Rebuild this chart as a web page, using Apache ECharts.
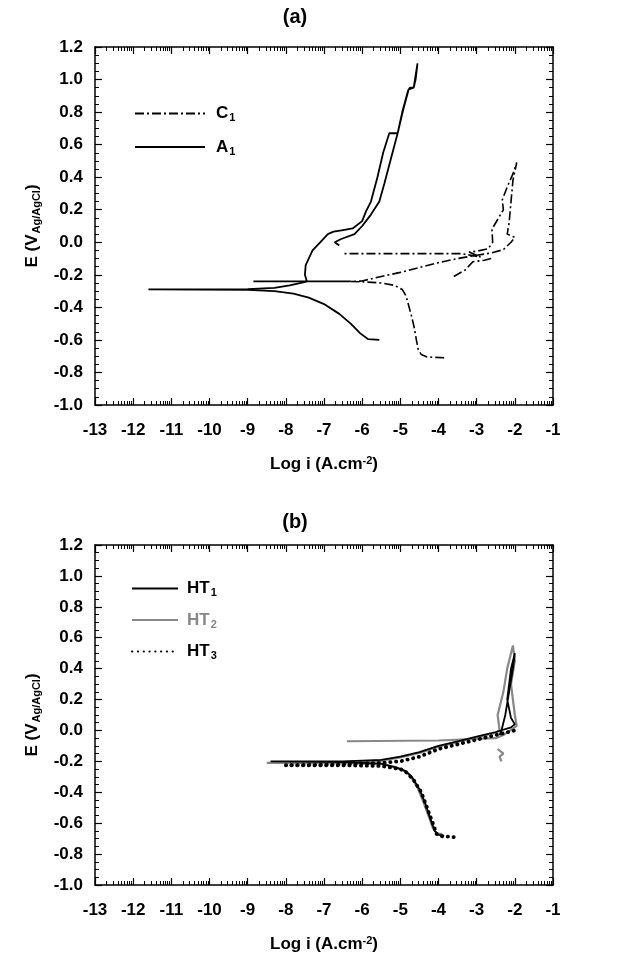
<!DOCTYPE html>
<html>
<head>
<meta charset="utf-8">
<script src="https://cdn.jsdelivr.net/npm/echarts@6/dist/echarts.min.js"></script>
<style>
  html, body { margin: 0; padding: 0; background: #fff; }
  #chart { width: 621px; height: 960px; }
</style>
</head>
<body>
<div id="chart"></div>
<script>
// axis ticks
const xTicks = [-13, -12, -11, -10, -9, -8, -7, -6, -5, -4, -3, -2, -1];
const yTicks = [-1.0, -0.8, -0.6, -0.4, -0.2, 0.0, 0.2, 0.4, 0.6, 0.8, 1.0, 1.2];

// panel (a) : [log i, E]
const c1Main = [
  [-3.85, -0.71], [-4.3, -0.705], [-4.45, -0.69], [-4.53, -0.66], [-4.58, -0.6], [-4.63, -0.53],
  [-4.7, -0.46], [-4.78, -0.39], [-4.85, -0.33], [-4.95, -0.29], [-5.15, -0.265], [-5.5, -0.25],
  [-6.0, -0.243], [-6.3, -0.24], [-6.0, -0.238], [-5.5, -0.21], [-5.0, -0.185], [-4.5, -0.155],
  [-4.0, -0.125], [-3.5, -0.1], [-3.0, -0.08], [-2.6, -0.065], [-2.3, -0.045], [-2.1, 0.0],
  [-2.0, 0.03], [-2.2, 0.05], [-2.15, 0.12], [-2.1, 0.25], [-2.05, 0.38], [-1.95, 0.49],
  [-2.05, 0.42], [-2.2, 0.34], [-2.33, 0.26], [-2.3, 0.2], [-2.45, 0.14], [-2.6, 0.08],
  [-2.58, 0.0], [-2.7, -0.04], [-3.0, -0.055], [-3.2, -0.06], [-2.9, -0.09], [-3.4, -0.07],
  [-4.5, -0.07], [-6.5, -0.07]
];
const c1Spike = [[-8.85, -0.24], [-7.5, -0.24], [-6.3, -0.24]];
const c1Frag = [[-3.6, -0.21], [-3.3, -0.17], [-3.1, -0.12], [-2.8, -0.11], [-2.55, -0.095]];
const a1 = [
  [-5.55, -0.6], [-5.85, -0.595], [-6.05, -0.56], [-6.3, -0.5], [-6.6, -0.44], [-7.0, -0.38],
  [-7.4, -0.34], [-7.8, -0.315], [-8.3, -0.3], [-9.0, -0.293], [-11.6, -0.29], [-9.0, -0.288],
  [-8.3, -0.28], [-7.9, -0.265], [-7.6, -0.25], [-7.45, -0.24], [-7.5, -0.2], [-7.48, -0.14],
  [-7.4, -0.1], [-7.3, -0.05], [-7.1, 0.0], [-6.9, 0.05], [-6.75, 0.065], [-6.5, 0.075],
  [-6.25, 0.085], [-6.0, 0.13], [-5.9, 0.19], [-5.77, 0.25], [-5.6, 0.4], [-5.45, 0.55],
  [-5.29, 0.67], [-5.07, 0.67], [-4.95, 0.8], [-4.8, 0.93], [-4.75, 0.95], [-4.65, 0.95],
  [-4.55, 1.1], [-4.6, 1.0], [-4.65, 0.95], [-4.78, 0.94], [-4.93, 0.81], [-5.07, 0.67],
  [-5.24, 0.52], [-5.42, 0.36], [-5.55, 0.25], [-5.77, 0.17], [-6.0, 0.1], [-6.2, 0.05],
  [-6.55, 0.02], [-6.72, 0.0], [-6.6, -0.02]
];

// panel (b)
const ht1 = [
  [-3.85, -0.68], [-4.0, -0.675], [-4.1, -0.65], [-4.2, -0.58], [-4.35, -0.47], [-4.5, -0.38],
  [-4.7, -0.3], [-4.85, -0.265], [-5.1, -0.24], [-5.5, -0.215], [-6.5, -0.205], [-8.4, -0.2],
  [-6.5, -0.2], [-5.5, -0.19], [-5.0, -0.17], [-4.5, -0.14], [-4.0, -0.1], [-3.5, -0.07],
  [-3.0, -0.04], [-2.5, -0.01], [-2.1, 0.02], [-2.0, 0.04], [-2.1, 0.08], [-2.2, 0.2],
  [-2.15, 0.3], [-2.1, 0.4], [-2.0, 0.5], [-2.05, 0.4], [-2.15, 0.25], [-2.25, 0.1],
  [-2.35, 0.0], [-2.4, -0.03]
];
const ht2 = [
  [-3.9, -0.67], [-4.05, -0.665], [-4.15, -0.63], [-4.25, -0.56], [-4.4, -0.46], [-4.55, -0.37],
  [-4.75, -0.29], [-4.9, -0.26], [-5.15, -0.235], [-5.5, -0.218], [-6.5, -0.212], [-8.5, -0.21],
  [-6.5, -0.205], [-5.5, -0.195], [-5.0, -0.175], [-4.5, -0.145], [-4.0, -0.105], [-3.5, -0.075],
  [-3.0, -0.045], [-2.5, -0.015], [-2.4, 0.0], [-2.45, 0.1], [-2.3, 0.25], [-2.2, 0.4],
  [-2.05, 0.55], [-2.0, 0.45], [-2.1, 0.3], [-2.0, 0.1], [-1.95, 0.03], [-2.3, -0.03],
  [-2.5, -0.05], [-4.0, -0.065], [-6.4, -0.07]
];
const ht2Frag = [[-2.45, -0.12], [-2.3, -0.15], [-2.4, -0.17], [-2.35, -0.2]];
const ht3 = [
  [-3.6, -0.69], [-3.9, -0.685], [-4.05, -0.67], [-4.15, -0.6], [-4.3, -0.5], [-4.45, -0.4],
  [-4.65, -0.32], [-4.85, -0.27], [-5.0, -0.25], [-5.5, -0.23], [-6.5, -0.225], [-8.0, -0.225],
  [-6.5, -0.22], [-5.5, -0.21], [-5.0, -0.2], [-4.5, -0.17], [-4.0, -0.12], [-3.5, -0.09],
  [-3.0, -0.06], [-2.5, -0.03], [-2.0, 0.0]
];

const FONT = 'Liberation Sans';
const minorX = [];
xTicks.slice(0, -1).forEach(d => {
  for (let k = 2; k <= 9; k++) minorX.push(d + Math.log10(k));
});

const rich = {
  m: { fontFamily: FONT, fontSize: 17, fontWeight: 'bold', color: '#000' },
  s: { fontFamily: FONT, fontSize: 11, fontWeight: 'bold', color: '#000', padding: [9, 0, 0, 1] },
  g: { fontFamily: FONT, fontSize: 17, fontWeight: 'bold', color: '#888' },
  gs: { fontFamily: FONT, fontSize: 11, fontWeight: 'bold', color: '#888', padding: [9, 0, 0, 1] },
  sup: { fontFamily: FONT, fontSize: 11, fontWeight: 'bold', color: '#000', padding: [0, 0, 8, 0] }
};

function xAxes(g) {
  const base = { type: 'value', gridIndex: g, min: -13, max: -1, interval: 1, splitLine: { show: false } };
  const line = { show: true, onZero: false, lineStyle: { color: '#000', width: 1.5 } };
  const hidden = { show: false, onZero: false };
  return [
    Object.assign({}, base, {
      position: 'bottom', axisLine: line,
      axisTick: { inside: true, length: 7, lineStyle: { color: '#000', width: 1.2 } },
      axisLabel: { fontFamily: FONT, fontSize: 17, fontWeight: 'bold', color: '#000', margin: 17 },
      name: '{m|Log i (A.cm}{sup|-2}{m|)}', nameLocation: 'middle', nameGap: 50,
      nameTextStyle: { rich: rich }
    }),
    Object.assign({}, base, {
      position: 'bottom', axisLine: hidden, axisLabel: { show: false },
      axisTick: { inside: true, length: 4, customValues: minorX, lineStyle: { color: '#000', width: 1 } }
    }),
    Object.assign({}, base, {
      position: 'top', axisLine: line, axisLabel: { show: false },
      axisTick: { inside: true, length: 7, lineStyle: { color: '#000', width: 1.2 } }
    }),
    Object.assign({}, base, {
      position: 'top', axisLine: hidden, axisLabel: { show: false },
      axisTick: { inside: true, length: 4, customValues: minorX, lineStyle: { color: '#000', width: 1 } }
    })
  ];
}

function yAxes(g) {
  const base = {
    type: 'value', gridIndex: g, min: yTicks[0], max: yTicks[yTicks.length - 1], interval: 0.2,
    splitLine: { show: false },
    axisLine: { show: true, onZero: false, lineStyle: { color: '#000', width: 1.5 } },
    axisTick: { inside: true, length: 7, lineStyle: { color: '#000', width: 1.2 } },
    minorTick: { show: true, splitNumber: 4, length: 4, lineStyle: { color: '#000', width: 1 } }
  };
  return [
    Object.assign({}, base, {
      position: 'left',
      axisLabel: { fontFamily: FONT, fontSize: 17, fontWeight: 'bold', color: '#000', margin: 12,
        formatter: v => v.toFixed(1) },
      name: '{m|E (V}{s|Ag/AgCl}{m|)}', nameLocation: 'middle', nameGap: 52, nameRotate: 90,
      nameTextStyle: { rich: rich }
    }),
    Object.assign({}, base, { position: 'right', axisLabel: { show: false } })
  ];
}

function line(name, data, g, style, z) {
  return {
    name: name, type: 'line', data: data, xAxisIndex: g * 4, yAxisIndex: g * 2,
    showSymbol: false, symbol: 'none', animation: false, z: z || 2,
    itemStyle: { color: style.color }, lineStyle: style
  };
}

const dashDot = { color: '#000', width: 1.6, type: [9, 3, 2, 3] };
const solid = { color: '#000', width: 1.8 };

const chart = echarts.init(document.getElementById('chart'));
chart.setOption({
  animation: false,
  backgroundColor: '#fff',
  title: [
    { text: '(a)', left: 290, textAlign: 'center', top: 2, textStyle: { fontFamily: FONT, fontSize: 20, fontWeight: 'bold', color: '#000' } },
    { text: '(b)', left: 290, textAlign: 'center', top: 507, textStyle: { fontFamily: FONT, fontSize: 20, fontWeight: 'bold', color: '#000' } }
  ],
  grid: [
    { left: 95, top: 47, width: 458, height: 358 },
    { left: 95, top: 545, width: 458, height: 340 }
  ],
  xAxis: xAxes(0).concat(xAxes(1)),
  yAxis: yAxes(0).concat(yAxes(1)),
  legend: [
    {
      orient: 'vertical', left: 129, top: 100, itemWidth: 70, itemHeight: 14, itemGap: 15,
      data: ['C1', 'A1'], itemStyle: { opacity: 0 },
      formatter: n => '{m|' + n[0] + '}{s|' + n.slice(1) + '}',
      textStyle: { rich: rich, padding: [0, 0, 0, 6] }
    },
    {
      orient: 'vertical', left: 126, top: 575, itemWidth: 46, itemHeight: 14, itemGap: 13,
      data: ['HT1', 'HT2', 'HT3'], itemStyle: { opacity: 0 },
      formatter: n => n === 'HT2' ? '{g|HT}{gs|2}' : '{m|HT}{s|' + n.slice(2) + '}',
      textStyle: { rich: rich, padding: [0, 0, 0, 4] }
    }
  ],
  series: [
    line('C1', c1Main, 0, dashDot),
    line('C1', c1Frag, 0, dashDot),
    line('C1', c1Spike, 0, solid),
    line('A1', a1, 0, solid),
    line('HT2', ht2, 1, { color: '#888', width: 2.2 }, 2),
    line('HT2', ht2Frag, 1, { color: '#888', width: 2.2 }, 2),
    line('HT1', ht1, 1, { color: '#000', width: 1.8 }, 3),
    line('HT3', ht3, 1, { color: '#000', width: 3.8, type: [0.3, 5.5], cap: 'round' }, 4)
  ]
});
</script>
</body>
</html>
